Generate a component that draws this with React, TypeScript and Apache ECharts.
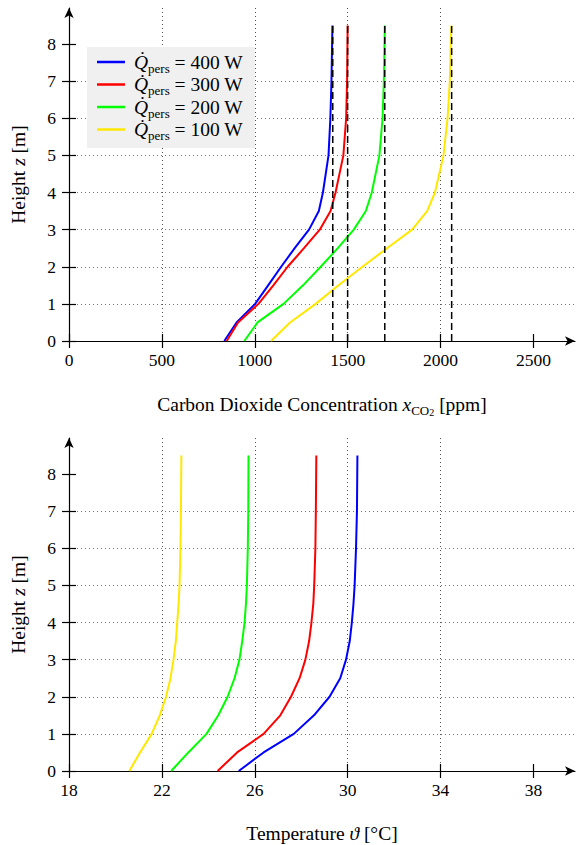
import React, { useEffect, useRef } from 'react';
import * as echarts from 'echarts';

const FONT = 'Liberation Serif';

// ---- data: top chart (CO2 concentration vs height) ----
const zTop = [0, 0.5, 1, 1.5, 2, 2.5, 3, 3.5, 4, 5, 6, 7, 8.5];
const co2_400 = [836, 902, 1002, 1072, 1142, 1215, 1292, 1345, 1367, 1397, 1407, 1413, 1418];
const co2_300 = [849, 910, 1020, 1100, 1177, 1265, 1350, 1408, 1435, 1477, 1492, 1497, 1500];
const co2_200 = [944, 1015, 1155, 1260, 1355, 1447, 1533, 1598, 1630, 1671, 1688, 1695, 1700];
const co2_100 = [1088, 1190, 1328, 1451, 1580, 1712, 1847, 1928, 1970, 2016, 2038, 2050, 2058];
const co2Ref = [1420, 1500, 1700, 2060];
const co2Ticks = [0, 500, 1000, 1500, 2000, 2500];

// ---- data: bottom chart (temperature vs height) ----
const zBottom = [0, 0.5, 1, 1.5, 2, 2.5, 3, 3.5, 4, 4.5, 5, 6, 7, 8.5];
const temp_400 = [25.31, 26.38, 27.68, 28.55, 29.22, 29.68, 29.93, 30.09, 30.18, 30.25, 30.3, 30.36, 30.4, 30.42];
const temp_300 = [24.4, 25.24, 26.38, 27.1, 27.56, 27.93, 28.18, 28.34, 28.44, 28.52, 28.56, 28.61, 28.63, 28.65];
const temp_200 = [22.4, 23.14, 23.92, 24.43, 24.83, 25.13, 25.34, 25.46, 25.56, 25.62, 25.66, 25.7, 25.72, 25.73];
const temp_100 = [20.6, 21.06, 21.56, 21.91, 22.18, 22.37, 22.5, 22.6, 22.66, 22.72, 22.76, 22.8, 22.82, 22.84];
const tempTicks = [18, 22, 26, 30, 34, 38];

const zTicks = [0, 1, 2, 3, 4, 5, 6, 7, 8];
const powers = ['400', '300', '200', '100'];
const colors = ['#0000ff', '#ff0000', '#00ff00', '#ffe800'];

const pair = (xs: number[], zs: number[]) => xs.map((x, i) => [x, zs[i]]);

const NAME_SIZE = 19.5;
const TICK_SIZE = 17.5;

const nameRich = {
  r: { fontFamily: FONT, fontSize: NAME_SIZE, color: '#000' },
  i: { fontStyle: 'italic', fontFamily: FONT, fontSize: NAME_SIZE, color: '#000' },
  s: { fontFamily: FONT, fontSize: 13, color: '#000', verticalAlign: 'bottom', lineHeight: 24 },
  ss: { fontFamily: FONT, fontSize: 10, color: '#000', verticalAlign: 'bottom', lineHeight: 26 },
};
const tickRich = { r: { fontFamily: FONT, fontSize: TICK_SIZE, color: '#000' } };

function mainX(gridIndex: number, min: number, max: number, interval: number, ticks: number[], name: string, nameGap: number) {
  return {
    type: 'value', gridIndex, min, max, interval, position: 'bottom',
    axisLine: { show: true, onZero: false, symbol: ['none', 'arrow'], symbolSize: [7, 10], lineStyle: { color: '#000', width: 1.2 } },
    axisTick: { show: true, inside: false, length: 7, customValues: ticks, lineStyle: { color: '#000', width: 1.2 } },
    axisLabel: {
      customValues: ticks, margin: 10, color: '#000', fontFamily: FONT, fontSize: TICK_SIZE, rich: tickRich,
      formatter: (v: number) => (ticks.includes(v) ? `{r|${v}}` : ''),
    },
    splitLine: { show: true, showMinLine: false, showMaxLine: false, lineStyle: { color: 'rgba(0,0,0,0.55)', type: [1, 3], width: 1 } },
    name, nameLocation: 'middle', nameGap,
    nameTextStyle: { fontFamily: FONT, fontSize: NAME_SIZE, color: '#000', rich: nameRich },
  };
}

function auxX(gridIndex: number, min: number, max: number, interval: number, ticks: number[]) {
  return {
    type: 'value', gridIndex, min, max, interval, position: 'bottom',
    axisLine: { show: false, onZero: false },
    axisTick: { show: true, inside: true, length: 7, customValues: ticks, lineStyle: { color: '#000', width: 1.2 } },
    axisLabel: { show: false },
    splitLine: { show: true, showMinLine: false, showMaxLine: false, lineStyle: { color: 'rgba(0,0,0,0.28)', type: [1, 3], width: 1 } },
  };
}

function mainY(gridIndex: number, max: number) {
  return {
    type: 'value', gridIndex, min: 0, max, interval: 1, position: 'left',
    axisLine: { show: true, onZero: false, symbol: ['none', 'arrow'], symbolSize: [7, 10], lineStyle: { color: '#000', width: 1.2 } },
    axisTick: { show: true, inside: false, length: 7, customValues: zTicks, lineStyle: { color: '#000', width: 1.2 } },
    axisLabel: {
      customValues: zTicks, margin: 13, color: '#000', fontFamily: FONT, fontSize: TICK_SIZE, rich: tickRich,
      formatter: (v: number) => (zTicks.includes(v) ? `{r|${v}}` : ''),
    },
    splitLine: { show: true, showMinLine: false, showMaxLine: false, lineStyle: { color: 'rgba(0,0,0,0.55)', type: [1, 3], width: 1 } },
    name: '{r|Height }{i|z}{r| [m]}', nameLocation: 'middle', nameGap: 41, nameRotate: 90,
    nameTextStyle: { fontFamily: FONT, fontSize: NAME_SIZE, color: '#000', rich: nameRich },
  };
}

function auxY(gridIndex: number, max: number) {
  return {
    type: 'value', gridIndex, min: 0, max, interval: 1, position: 'left',
    axisLine: { show: false, onZero: false },
    axisTick: { show: true, inside: true, length: 7, customValues: zTicks, lineStyle: { color: '#000', width: 1.2 } },
    axisLabel: { show: false },
    splitLine: { show: false },
  };
}

export default function App() {
  const ref = useRef<HTMLDivElement>(null);
  useEffect(() => {
    const chart = echarts.init(ref.current!, null, { renderer: 'svg' });
    const topSets = [co2_400, co2_300, co2_200, co2_100];
    const botSets = [temp_400, temp_300, temp_200, temp_100];
    const series: any[] = [];
    topSets.forEach((d, i) => {
      series.push({
        type: 'line', name: powers[i], xAxisIndex: 0, yAxisIndex: 0,
        data: pair(d, zTop), symbol: 'none', smooth: false,
        lineStyle: { color: colors[i], width: 2 }, itemStyle: { color: colors[i] }, z: 3,
      });
    });
    co2Ref.forEach((v) => {
      series.push({
        type: 'line', name: 'ref' + v, xAxisIndex: 0, yAxisIndex: 0,
        data: [[v, 0], [v, 8.5]], symbol: 'none', silent: true,
        lineStyle: { color: '#000', width: 1.5, type: [7, 4] }, z: 4,
      });
    });
    botSets.forEach((d, i) => {
      series.push({
        type: 'line', name: powers[i], xAxisIndex: 2, yAxisIndex: 2,
        data: pair(d, zBottom), symbol: 'none', smooth: false,
        lineStyle: { color: colors[i], width: 2 }, itemStyle: { color: colors[i] }, z: 3,
      });
    });

    const option: any = {
      animation: false,
      backgroundColor: '#fff',
      textStyle: { fontFamily: FONT },
      grid: [
        { left: 69, top: 8, width: 506, height: 333 },
        { left: 69, top: 438, width: 506, height: 333 },
      ],
      xAxis: [
        mainX(0, 0, 2724, 500, co2Ticks, '{r|Carbon Dioxide Concentration }{i|x}{s|CO}{ss|2}{r| [ppm]}', 50),
        auxX(0, 0, 2724, 250, co2Ticks),
        mainX(1, 18, 39.79, 4, tempTicks, '{r|Temperature }{i|ϑ}{r| [°C]}', 52),
        auxX(1, 18, 39.79, 2, tempTicks),
      ],
      yAxis: [mainY(0, 8.97), auxY(0, 8.97), mainY(1, 8.97), auxY(1, 8.97)],
      legend: {
        show: true, data: powers, orient: 'vertical', left: 87, top: 47,
        backgroundColor: '#f0f0f0', borderWidth: 0, padding: [5, 12, 6, 10],
        itemGap: 0, itemWidth: 28, itemHeight: 2.5, icon: 'rect',
        formatter: (name: string) => `{q|Q\u0307}{s|pers}{t| = ${name} W}`,
        textStyle: {
          fontFamily: FONT, fontSize: 19, color: '#000', padding: [0, 0, 0, 4],
          rich: {
            q: { fontFamily: FONT, fontStyle: 'italic', fontSize: 19.5, color: '#000', lineHeight: 25 },
            s: { fontFamily: FONT, fontSize: 13, color: '#000', verticalAlign: 'bottom', lineHeight: 25 },
            t: { fontFamily: FONT, fontSize: 19.5, color: '#000', lineHeight: 25 },
          },
        },
      },
      series,
    };
    chart.setOption(option);
    return () => chart.dispose();
  }, []);
  return <div ref={ref} style={{ position: 'fixed', left: 0, top: 0, width: 577, height: 845 }} />;
}
